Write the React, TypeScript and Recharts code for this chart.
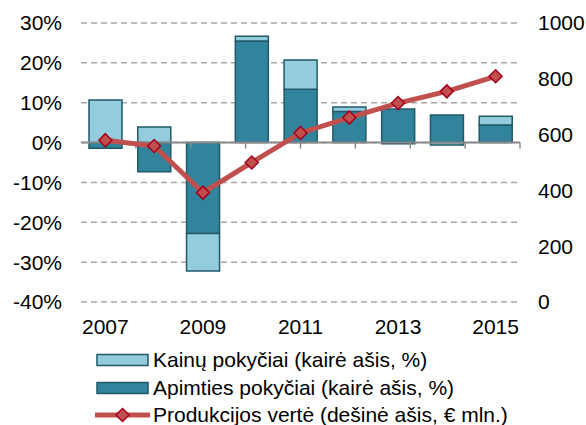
import React from 'react';
import {
  ComposedChart,
  Bar,
  Line,
  XAxis,
  YAxis,
  CartesianGrid,
  ReferenceLine,
  ReferenceArea,
  Legend,
} from 'recharts';

const years = ['2007', '2008', '2009', '2010', '2011', '2012', '2013', '2014', '2015'];
const kainuPokyciai = [10.7, 3.9, -9.4, 1.2, 7.3, 1.1, -0.3, -0.6, 2.2];
const apimtiesPokyciai = [-1.4, -7.3, -22.8, 25.5, 13.4, 7.8, 8.4, 6.9, 4.4];
const produkcijosVerte = [580, 559, 392, 500, 606, 661, 713, 755, 809];

const leftTicks = [-40, -30, -20, -10, 0, 10, 20, 30];
const rightTicks = [0, 200, 400, 600, 800, 1000];

const legendLabels = [
  'Kainų pokyčiai (kairė ašis, %)',
  'Apimties pokyčiai (kairė ašis, %)',
  'Produkcijos vertė (dešinė ašis, € mln.)',
];

const data = years.map((year, i) => ({
  year,
  kainu: kainuPokyciai[i],
  apimties: apimtiesPokyciai[i],
  verte: produkcijosVerte[i],
}));

// category boundaries on a hidden 0..n axis, for the small ticks on the zero line
const boundaries = years.slice(1).map((_, i) => i + 1);

const FONT = '"Liberation Sans", Arial, sans-serif';
const FS = 21;
const LIGHT = '#93cddd';
const DARK = '#31849b';
const EDGE = '#215968';
const RED = '#c0504d';
const GRAY = '#898989';

const Diamond = (props: any) => {
  const { cx, cy } = props;
  if (cx == null || cy == null) return null;
  const r = 6.5;
  return (
    <path
      d={`M${cx},${cy - r} L${cx + r},${cy} L${cx},${cy + r} L${cx - r},${cy} Z`}
      fill={RED}
      stroke="#a2001d"
      strokeWidth={1.5}
    />
  );
};

const LegendBox = () => {
  const row = (top: number, swatch: React.ReactNode, label: string) => (
    <div
      key={label}
      style={{
        position: 'absolute',
        top,
        left: 0,
        height: 28,
        display: 'flex',
        alignItems: 'center',
        whiteSpace: 'nowrap',
      }}
    >
      <svg width={153} height={20} style={{ flex: 'none' }}>{swatch}</svg>
      <span style={{ fontFamily: FONT, fontSize: FS, color: '#000' }}>{label}</span>
    </div>
  );
  return (
    <div style={{ position: 'relative', width: 586, height: 93 }}>
      {row(
        14,
        <rect x={97} y={4.5} width={51} height={11} fill={LIGHT} stroke={EDGE} strokeWidth={1.5} />,
        legendLabels[0]
      )}
      {row(
        42,
        <rect x={97} y={4.5} width={51} height={11} fill={DARK} stroke={EDGE} strokeWidth={1.5} />,
        legendLabels[1]
      )}
      {row(
        69,
        <g>
          <line x1={95} y1={10} x2={150} y2={10} stroke={RED} strokeWidth={5} />
          <Diamond cx={122.5} cy={10} />
        </g>,
        legendLabels[2]
      )}
    </div>
  );
};

export default function App() {
  return (
    <div style={{ position: 'absolute', left: 0, top: 0, width: 586, height: 425, background: '#fff' }}>
      <ComposedChart
        width={586}
        height={425}
        data={data}
        stackOffset="sign"
        margin={{ top: 23, right: 6, left: 19, bottom: 0 }}
      >
        <CartesianGrid vertical={false} stroke="#a6a6a6" strokeWidth={1.5} strokeDasharray="6 4" yAxisId="left" />
        <XAxis
          dataKey="year"
          interval={1}
          axisLine={false}
          tickLine={false}
          tickSize={0}
          tickMargin={17}
          height={30}
          tick={{ fill: '#000', fontSize: FS, fontFamily: FONT }}
        />
        <XAxis xAxisId="n" type="number" domain={[0, years.length]} hide />
        <YAxis
          yAxisId="left"
          domain={[-40, 30]}
          ticks={leftTicks}
          tickFormatter={(v: number) => `${v}%`}
          width={62}
          axisLine={false}
          tickLine={false}
          tickSize={0}
          tickMargin={19}
          tick={{ fill: '#000', fontSize: FS, fontFamily: FONT }}
        />
        <YAxis
          yAxisId="right"
          orientation="right"
          domain={[0, 1000]}
          ticks={rightTicks}
          width={60}
          axisLine={false}
          tickLine={false}
          tickSize={0}
          tickMargin={18}
          tick={{ fill: '#000', fontSize: FS, fontFamily: FONT, textAnchor: 'start' }}
        />
        <Legend
          verticalAlign="bottom"
          wrapperStyle={{ left: 0, width: 586 }}
          content={() => <LegendBox />}
        />
        <Bar
          yAxisId="left"
          dataKey="apimties"
          stackId="s"
          barSize={33}
          fill={DARK}
          stroke={EDGE}
          strokeWidth={1.5}
          isAnimationActive={false}
        />
        <Bar
          yAxisId="left"
          dataKey="kainu"
          stackId="s"
          barSize={33}
          fill={LIGHT}
          stroke={EDGE}
          strokeWidth={1.5}
          isAnimationActive={false}
        />
        <ReferenceLine yAxisId="left" y={0} stroke={GRAY} strokeWidth={2} />
        {boundaries.map((b) => (
          <ReferenceLine
            key={b}
            xAxisId="n"
            yAxisId="left"
            segment={[{ x: b, y: 0 }, { x: b, y: -1.5 }]}
            stroke={GRAY}
            strokeWidth={1.5}
          />
        ))}
        <ReferenceArea
          xAxisId="n"
          yAxisId="left"
          x1={0}
          x2={years.length}
          y1={-40}
          y2={30}
          fill="none"
          fillOpacity={0}
          stroke={GRAY}
          strokeWidth={2}
        />
        <Line
          yAxisId="right"
          dataKey="verte"
          stroke={RED}
          strokeWidth={5}
          dot={<Diamond />}
          activeDot={false}
          isAnimationActive={false}
        />
      </ComposedChart>
    </div>
  );
}
